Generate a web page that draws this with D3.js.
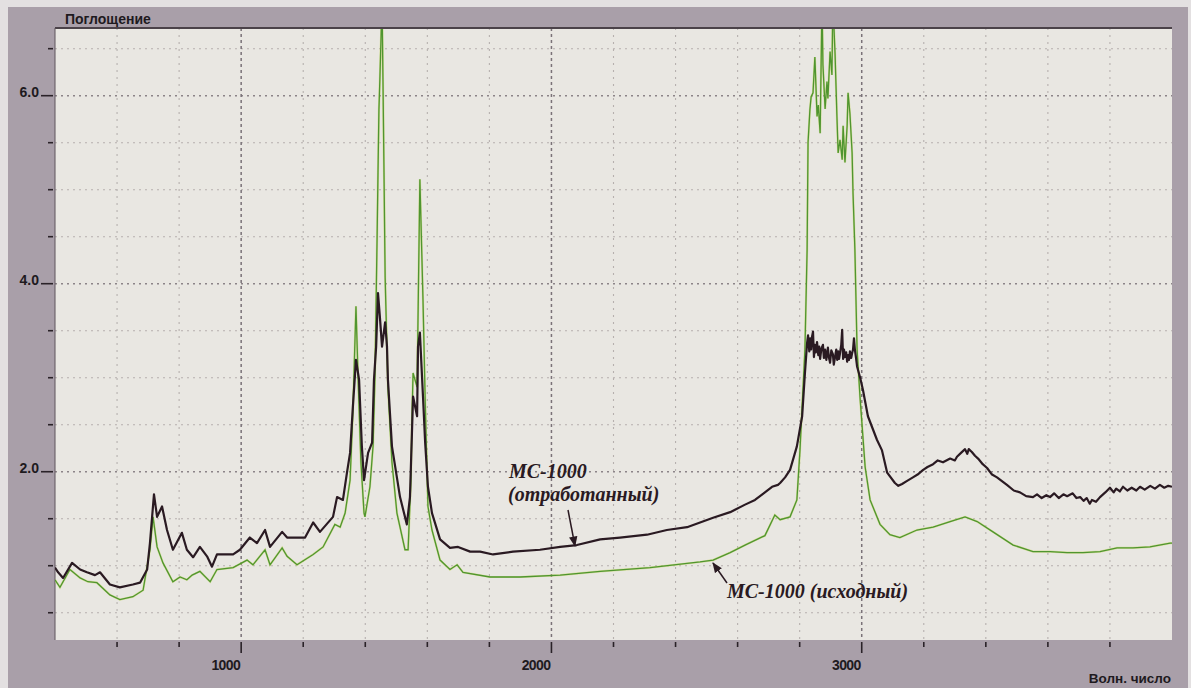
<!DOCTYPE html>
<html>
<head>
<meta charset="utf-8">
<script src="https://cdn.jsdelivr.net/npm/d3@7"></script>
<style>
  body { margin: 0; background: #e3e0e1; }
  svg { display: block; }
</style>
</head>
<body>
<div id="chart"></div>
<script>
// IR spectra: wavenumber (cm-1) and absorbance
// MC-1000 used oil (black curve)
var usedWn = [
  400, 410, 426, 455, 481, 503, 529, 545, 577, 609,
  651, 674, 697, 706, 719, 729, 745, 761, 780, 809,
  825, 845, 867, 890, 906, 922, 974, 996, 1028, 1051,
  1077, 1093, 1132, 1148, 1190, 1206, 1232, 1254, 1296, 1309,
  1328, 1341, 1351, 1360, 1370, 1380, 1389, 1396, 1409, 1422,
  1428, 1435, 1441, 1447, 1454, 1464, 1470, 1473, 1486, 1512,
  1534, 1544, 1554, 1567, 1570, 1576, 1586, 1593, 1602, 1615,
  1641, 1673, 1699, 1738, 1770, 1812, 1876, 1963, 2028, 2082,
  2157, 2221, 2308, 2372, 2437, 2521, 2576, 2624, 2656, 2688,
  2711, 2730, 2737, 2753, 2769, 2791, 2808, 2817, 2824, 2827,
  2831, 2834, 2837, 2840, 2843, 2846, 2849, 2852, 2856, 2860,
  2863, 2866, 2870, 2875, 2878, 2882, 2886, 2891, 2894, 2898,
  2902, 2907, 2910, 2914, 2918, 2921, 2924, 2927, 2930, 2934,
  2937, 2940, 2943, 2946, 2950, 2953, 2956, 2959, 2962, 2966,
  2969, 2972, 2975, 2978, 2982, 2985, 2995, 3004, 3020, 3049,
  3065, 3082, 3107, 3118, 3130, 3145, 3165, 3180, 3198, 3212,
  3230, 3245, 3262, 3285, 3300, 3307, 3320, 3333, 3340, 3345,
  3355, 3365, 3375, 3390, 3404, 3420, 3436, 3452, 3468, 3490,
  3510, 3530, 3552, 3565, 3580, 3595, 3607, 3620, 3635, 3650,
  3662, 3680, 3692, 3704, 3715, 3725, 3735, 3742, 3755, 3768,
  3785, 3800, 3812, 3820, 3832, 3842, 3856, 3870, 3885, 3897,
  3912, 3930, 3945, 3961, 3975, 3988, 4000
];
var usedAbs = [
  0.98, 0.93, 0.87, 1.03, 0.96, 0.93, 0.90, 0.93, 0.80, 0.77,
  0.80, 0.82, 0.96, 1.24, 1.76, 1.52, 1.63, 1.38, 1.17, 1.35,
  1.17, 1.09, 1.20, 1.10, 0.99, 1.12, 1.12, 1.17, 1.30, 1.24,
  1.38, 1.20, 1.36, 1.30, 1.30, 1.30, 1.46, 1.36, 1.52, 1.73,
  1.70, 1.99, 2.20, 2.69, 3.19, 2.98, 2.27, 1.91, 2.20, 2.31,
  2.98, 3.33, 3.90, 3.65, 3.33, 3.59, 3.33, 2.98, 2.27, 1.73,
  1.44, 1.73, 2.80, 2.59, 3.33, 3.48, 2.80, 2.31, 1.84, 1.56,
  1.28, 1.19, 1.20, 1.15, 1.15, 1.12, 1.15, 1.17, 1.20, 1.22,
  1.28, 1.30, 1.33, 1.38, 1.41, 1.51, 1.57, 1.65, 1.70, 1.78,
  1.84, 1.86, 1.88, 1.94, 2.02, 2.27, 2.59, 3.05, 3.37, 3.45,
  3.28, 3.42, 3.30, 3.44, 3.49, 3.22, 3.35, 3.27, 3.38, 3.24,
  3.33, 3.20, 3.31, 3.35, 3.21, 3.30, 3.19, 3.32, 3.22, 3.16,
  3.29, 3.25, 3.14, 3.22, 3.30, 3.19, 3.28, 3.20, 3.26, 3.35,
  3.51, 3.20, 3.30, 3.22, 3.27, 3.17, 3.24, 3.19, 3.28, 3.21,
  3.26, 3.30, 3.42, 3.30, 3.20, 3.12, 3.00, 2.87, 2.59, 2.34,
  2.23, 1.99, 1.88, 1.85, 1.87, 1.90, 1.94, 1.97, 2.02, 2.05,
  2.08, 2.12, 2.10, 2.14, 2.12, 2.16, 2.20, 2.24, 2.19, 2.24,
  2.21, 2.17, 2.14, 2.08, 2.04, 1.97, 1.94, 1.90, 1.86, 1.80,
  1.78, 1.74, 1.73, 1.76, 1.72, 1.75, 1.73, 1.77, 1.72, 1.76,
  1.74, 1.77, 1.72, 1.73, 1.69, 1.72, 1.66, 1.70, 1.68, 1.73,
  1.78, 1.83, 1.78, 1.82, 1.79, 1.84, 1.80, 1.83, 1.80, 1.84,
  1.81, 1.85, 1.82, 1.86, 1.83, 1.85, 1.84
];

// MC-1000 fresh oil (green curve)
var origWn = [
  400, 416, 448, 481, 506, 535, 577, 609, 651, 684,
  706, 716, 729, 748, 780, 803, 825, 842, 867, 900,
  922, 974, 1019, 1038, 1077, 1093, 1132, 1148, 1180, 1232,
  1264, 1302, 1319, 1335, 1351, 1360, 1370, 1377, 1386, 1396,
  1399, 1415, 1425, 1431, 1438, 1441, 1444, 1447, 1454, 1457,
  1460, 1464, 1473, 1486, 1502, 1528, 1538, 1547, 1551, 1554,
  1567, 1576, 1586, 1593, 1602, 1615, 1641, 1673, 1696, 1715,
  1802, 1899, 2028, 2157, 2318, 2479, 2521, 2576, 2624, 2688,
  2720, 2737, 2769, 2791, 2801, 2817, 2824, 2827, 2833, 2837,
  2843, 2849, 2856, 2860, 2866, 2872, 2875, 2882, 2888, 2891,
  2898, 2904, 2907, 2914, 2920, 2924, 2930, 2937, 2940, 2946,
  2953, 2956, 2962, 2969, 2972, 2978, 2985, 2995, 3011, 3027,
  3059, 3091, 3123, 3178, 3230, 3285, 3333, 3372, 3423, 3488,
  3552, 3607, 3662, 3713, 3768, 3823, 3874, 3929, 3994, 4000
];
var origAbs = [
  0.85, 0.77, 0.96, 0.87, 0.83, 0.82, 0.69, 0.64, 0.67, 0.74,
  1.17, 1.52, 1.20, 1.03, 0.83, 0.88, 0.85, 0.90, 0.94, 0.83,
  0.96, 0.98, 1.06, 1.01, 1.17, 1.01, 1.19, 1.10, 1.01, 1.12,
  1.20, 1.44, 1.41, 1.56, 1.91, 2.63, 3.76, 2.98, 2.10, 1.56,
  1.52, 1.84, 2.27, 2.98, 4.47, 5.18, 5.85, 6.17, 7.00, 6.17,
  5.29, 4.07, 2.90, 2.10, 1.56, 1.17, 1.17, 1.91, 2.63, 3.05,
  2.90, 5.11, 3.83, 2.77, 1.63, 1.38, 1.06, 0.96, 1.01, 0.93,
  0.88, 0.88, 0.90, 0.94, 0.98, 1.04, 1.06, 1.14, 1.22, 1.32,
  1.54, 1.49, 1.52, 1.70, 2.23, 3.30, 4.36, 5.50, 5.85, 5.99,
  6.03, 6.41, 5.78, 5.90, 5.60, 7.00, 6.33, 5.86, 6.15, 5.97,
  6.47, 6.22, 7.00, 6.45, 5.79, 5.39, 5.53, 5.32, 5.68, 5.29,
  5.68, 6.03, 5.81, 5.39, 4.96, 4.36, 3.30, 2.77, 2.05, 1.70,
  1.44, 1.33, 1.30, 1.38, 1.41, 1.47, 1.52, 1.47, 1.36, 1.22,
  1.15, 1.15, 1.14, 1.14, 1.15, 1.19, 1.19, 1.20, 1.24, 1.24
];

var xLabelTicks = [1000, 2000, 3000];
var yLabelTicks = [2.0, 4.0, 6.0];

var W = 1191, H = 688;
var plot = { left: 55, top: 28, right: 1172, bottom: 640 };

var svg = d3.select("#chart").append("svg")
  .attr("width", W).attr("height", H);

// grey frame of the program window
svg.append("rect").attr("x", 8).attr("y", 7).attr("width", 1180).attr("height", H - 7)
  .attr("fill", "#a99fa9");

svg.append("rect")
  .attr("x", plot.left).attr("y", plot.top)
  .attr("width", plot.right - plot.left).attr("height", plot.bottom - plot.top)
  .attr("fill", "#e9e7e2");

var x = d3.scaleLinear().domain([400, 4000]).range([plot.left, plot.right]);
var y = d3.scaleLinear().domain([0.21, 6.72]).range([plot.bottom, plot.top]);

var xGrid = d3.range(600, 4000, 200);
var yGrid = d3.range(0.5, 6.6, 0.5);

function isMajorX(v) { return xLabelTicks.indexOf(v) >= 0; }
function isMajorY(v) { return yLabelTicks.some(function(t) { return Math.abs(t - v) < 1e-6; }); }

// gridlines
svg.append("g").selectAll("line").data(yGrid).enter().append("line")
  .attr("x1", plot.left).attr("x2", plot.right)
  .attr("y1", function(d) { return y(d); }).attr("y2", function(d) { return y(d); })
  .attr("stroke", function(d) { return isMajorY(d) ? "#8c8488" : "#b6b0ae"; })
  .attr("stroke-width", function(d) { return isMajorY(d) ? 1.6 : 1.1; })
  .attr("stroke-dasharray", "2,4");

svg.append("g").selectAll("line").data(xGrid).enter().append("line")
  .attr("y1", plot.top).attr("y2", plot.bottom)
  .attr("x1", function(d) { return x(d); }).attr("x2", function(d) { return x(d); })
  .attr("stroke", function(d) { return isMajorX(d) ? "#7a7278" : "#b6b0ae"; })
  .attr("stroke-width", function(d) { return isMajorX(d) ? 1.5 : 1.1; })
  .attr("stroke-dasharray", function(d) { return isMajorX(d) ? "3,3" : "2,5"; });

// plot border
svg.append("line").attr("x1", plot.left).attr("x2", plot.right)
  .attr("y1", plot.top).attr("y2", plot.top)
  .attr("stroke", "#4b4249").attr("stroke-width", 2);
svg.append("line").attr("x1", plot.left).attr("x2", plot.left)
  .attr("y1", plot.top).attr("y2", plot.bottom)
  .attr("stroke", "#5e555c").attr("stroke-width", 1);

// x ticks
svg.append("g").selectAll("line").data(xGrid).enter().append("line")
  .attr("x1", function(d) { return x(d); }).attr("x2", function(d) { return x(d); })
  .attr("y1", plot.bottom + 2)
  .attr("y2", function(d) { return isMajorX(d) ? plot.bottom + 13 : plot.bottom + 7; })
  .attr("stroke", "#2a2228").attr("stroke-width", 1.6);

svg.append("g").selectAll("text").data(xLabelTicks).enter().append("text")
  .attr("x", function(d) { return x(d) - 1; })
  .attr("y", 670)
  .attr("text-anchor", "end")
  .attr("font-family", "Liberation Sans, Arial, sans-serif")
  .attr("font-size", 14).attr("font-weight", "bold")
  .attr("letter-spacing", -0.6)
  .attr("fill", "#1e1a1e")
  .text(function(d) { return d; });

// y ticks
svg.append("g").selectAll("line").data(yGrid).enter().append("line")
  .attr("x1", function(d) { return isMajorY(d) ? 41 : 48; }).attr("x2", 53)
  .attr("y1", function(d) { return y(d); }).attr("y2", function(d) { return y(d); })
  .attr("stroke", "#2a2228").attr("stroke-width", 1.6);

svg.append("g").selectAll("text").data(yLabelTicks).enter().append("text")
  .attr("x", 39)
  .attr("y", function(d) { return y(d) + 1; })
  .attr("text-anchor", "end")
  .attr("font-family", "Liberation Sans, Arial, sans-serif")
  .attr("font-size", 14).attr("font-weight", "bold")
  .attr("fill", "#1e1a1e")
  .text(function(d) { return d.toFixed(1); });

// axis titles
svg.append("text").attr("x", 65).attr("y", 24)
  .attr("font-family", "Liberation Sans, Arial, sans-serif")
  .attr("font-size", 14).attr("font-weight", "bold").attr("fill", "#1e1a1e")
  .text("Поглощение");
svg.append("text").attr("x", 1171).attr("y", 683).attr("text-anchor", "end")
  .attr("font-family", "Liberation Sans, Arial, sans-serif")
  .attr("font-size", 13.5).attr("font-weight", "bold").attr("fill", "#1e1a1e")
  .text("Волн. число");

// spectra
svg.append("clipPath").attr("id", "clip").append("rect")
  .attr("x", plot.left).attr("y", plot.top + 1)
  .attr("width", plot.right - plot.left).attr("height", plot.bottom - plot.top - 1);

var line = d3.line()
  .x(function(d) { return x(d[0]); })
  .y(function(d) { return y(d[1]); });

var origData = d3.zip(origWn, origAbs);
var usedData = d3.zip(usedWn, usedAbs);

var g = svg.append("g").attr("clip-path", "url(#clip)");
g.append("path").datum(origData).attr("d", line)
  .attr("fill", "none").attr("stroke", "#c9d86a").attr("stroke-width", 2.2).attr("opacity", 0.6);
g.append("path").datum(origData).attr("d", line)
  .attr("fill", "none").attr("stroke", "#4f9530").attr("stroke-width", 1.3);
g.append("path").datum(usedData).attr("d", line)
  .attr("fill", "none").attr("stroke", "#2a1a22").attr("stroke-width", 2.2)
  .attr("stroke-linejoin", "round");

// annotations
var defs = svg.append("defs");
defs.append("marker").attr("id", "arrow")
  .attr("viewBox", "0 0 10 10").attr("refX", 9).attr("refY", 5)
  .attr("markerWidth", 7).attr("markerHeight", 7).attr("orient", "auto")
  .append("path").attr("d", "M0,1 L10,5 L0,9 Z").attr("fill", "#2a1a22");

var serif = "Liberation Serif, Times New Roman, serif";
svg.append("text").attr("x", 509).attr("y", 478)
  .attr("font-family", serif).attr("font-style", "italic").attr("font-weight", "bold")
  .attr("font-size", 20).attr("fill", "#2a1a22").text("МС-1000");
svg.append("text").attr("x", 508).attr("y", 501)
  .attr("font-family", serif).attr("font-style", "italic").attr("font-weight", "bold")
  .attr("font-size", 20).attr("fill", "#2a1a22").text("(отработанный)");
svg.append("line").attr("x1", 568).attr("y1", 510).attr("x2", 575).attr("y2", 546)
  .attr("stroke", "#2a1a22").attr("stroke-width", 1.5).attr("marker-end", "url(#arrow)");

svg.append("text").attr("x", 727).attr("y", 598)
  .attr("font-family", serif).attr("font-style", "italic").attr("font-weight", "bold")
  .attr("font-size", 20).attr("fill", "#2a1a22").text("МС-1000 (исходный)");
svg.append("line").attr("x1", 727).attr("y1", 583).attr("x2", 713).attr("y2", 563)
  .attr("stroke", "#2a1a22").attr("stroke-width", 1.5).attr("marker-end", "url(#arrow)");
</script>
</body>
</html>
